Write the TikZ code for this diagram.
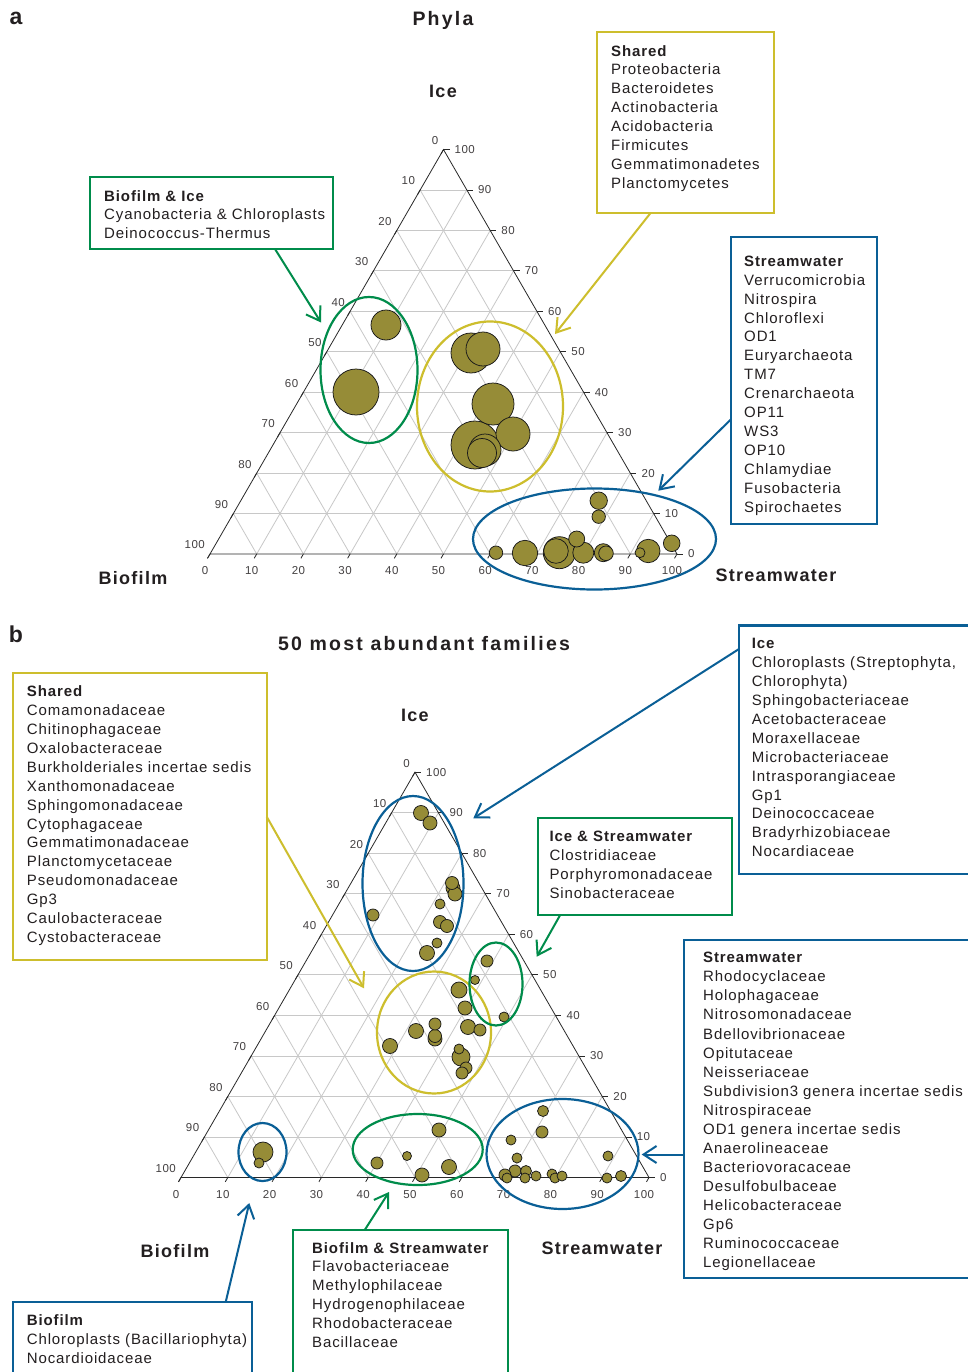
\documentclass[tikz,border=0pt]{standalone}
\usepackage{fontspec}
\setmainfont{Liberation Sans}
\newfontfamily\boxfont[LetterSpace=6]{Liberation Sans}
\newfontfamily\ttlfont[LetterSpace=11.5]{Liberation Sans}
\newfontfamily\axfont[LetterSpace=7]{Liberation Sans}
\newfontfamily\numfont[LetterSpace=4]{Liberation Sans}
\usetikzlibrary{arrows.meta,calc}
\definecolor{cgreen}{RGB}{0,140,75}
\definecolor{cyellow}{RGB}{205,190,45}
\definecolor{cblue}{RGB}{10,95,150}
\definecolor{colive}{RGB}{150,140,55}
\definecolor{cgrid}{RGB}{200,200,200}
\definecolor{ctext}{RGB}{35,31,32}
\definecolor{cside}{RGB}{40,40,40}
\tikzset{
  gridl/.style={draw=cgrid, line width=0.8pt},
  side/.style={draw=cside, line width=0.8pt},
  num/.style={font=\numfont\fontsize{11.5}{13}\selectfont, text=ctext!85, inner sep=0pt},
  bub/.style={fill=colive, draw=black!90, line width=0.75pt},
  ell/.style={line width=2.2pt},
  lbox/.style={draw=#1, line width=2.2pt, anchor=north west, inner sep=0pt, outer sep=0pt},
  ltext/.style={anchor=north west, inner sep=0pt, align=left, text=ctext,
    font=\boxfont\fontsize{15}{18.9}\selectfont},
  arr/.style={draw=#1, line width=2pt, -{Straight Barb[length=13pt,width=17pt]}},
  axlab/.style={font=\axfont\bfseries\fontsize{18}{20}\selectfont, text=ctext},
  ttl/.style={font=\ttlfont\bfseries\fontsize{19.5}{22}\selectfont, text=ctext},
  panl/.style={font=\bfseries\fontsize{23}{25}\selectfont, text=ctext},
}
% ternary frame: #1 = x of bottom-left, #2 = y of bottom-left, #3 = side, #4 = name prefix
\newcommand{\ternaryframe}[4]{%
  \pgfmathsetmacro{\tgH}{#3*0.8660254}
  \foreach \k in {1,...,9}{%
    \pgfmathsetmacro{\tgf}{\k/10}
    \draw[gridl] ({#1+#3*\tgf/2},{#2-\tgH*\tgf}) -- ({#1+#3-#3*\tgf/2},{#2-\tgH*\tgf});
    \draw[gridl] ({#1+#3*\tgf},#2) -- ({#1+#3*(1+\tgf)/2},{#2-\tgH*(1-\tgf)});
    \draw[gridl] ({#1+#3*\tgf},#2) -- ({#1+#3*\tgf/2},{#2-\tgH*\tgf});
  }
  \draw[side] (#1,#2) -- ({#1+#3},#2) -- ({#1+#3/2},{#2-\tgH}) -- cycle;
  \foreach \k in {0,...,10}{%
    \pgfmathsetmacro{\tgf}{\k/10}
    \pgfmathtruncatemacro{\tgv}{10*\k}
    \coordinate (#4tl\k) at ({#1+#3*(1-\tgf)/2},{#2-\tgH*(1-\tgf)});
    \draw[side] (#4tl\k) -- ++(-2.5,4.3);
    \node[num, anchor=east] (#4nl\k) at ($(#4tl\k)+(-5,-9)$) {\tgv};
    \coordinate (#4tr\k) at ({#1+#3*(1-\tgf/2)},{#2-\tgH*\tgf});
    \draw[side] (#4tr\k) -- ++(6,0);
    \node[num, anchor=west] (#4nr\k) at ($(#4tr\k)+(11,0)$) {\tgv};
    \coordinate (#4tb\k) at ({#1+#3*\tgf},#2);
    \draw[side] (#4tb\k) -- ++(-2.5,4.3);
    \node[num] (#4nb\k) at ($(#4tb\k)+(-5,17)$) {\tgv};
  }
}
\begin{document}
\begin{tikzpicture}[x=1pt,y=-1pt]
\useasboundingbox (0,0) rectangle (968,1372);
\fill[white] (0,0) rectangle (968,1372);

%% ================= Panel a =================
\node[panl] (pa) at (16,18) {a};
\node[ttl] (ttlA) at (443,20) {Phyla};
\node[axlab] (iceA) at (443,91) {Ice};
\node[axlab] (bioA) at (133,578) {Biofilm};
\node[axlab] (strA) at (776,575) {Streamwater};

\ternaryframe{210}{554}{467}{a}

% bubbles a
\foreach \x/\y/\r in {475/445/24, 356/392/23, 493/404/21, 471/353/20, 513/434/17, 483/349/17,
  485/450/16, 559.3/552.7/16, 386/325/15, 482/453/14.5, 525/553/12.7, 556/551/12.3,
  648.3/551/11.7, 583.3/552.7/10.5, 603.3/552.7/9, 598.7/500.7/8.7, 671.7/543.3/8.3,
  576.7/539/8, 606/553.3/7.3, 496/552.7/6.7, 598.7/516.7/6.7, 640/552.7/5}
  {\path[bub] (\x,\y) circle[radius=\r];}

% ellipses a
\draw[ell, cgreen] (369,370) ellipse[x radius=48.5, y radius=73];
\draw[ell, cyellow] (490,406.5) ellipse[x radius=73, y radius=85];
\draw[ell, cblue] (594.5,539) ellipse[x radius=121.5, y radius=50.5];

% boxes a
\node[lbox=cgreen, minimum width=243, minimum height=72] (biA) at (90,177) {};
\node[ltext] (biAt) at ($(biA.north west)+(14,13)$) {\textbf{Biofilm \& Ice}\\Cyanobacteria \& Chloroplasts\\Deinococcus-Thermus};

\node[lbox=cyellow, minimum width=177, minimum height=180.5] (shA) at (597.3,32.3) {};
\node[ltext] (shAt) at ($(shA.north west)+(13.7,12.7)$) {\textbf{Shared}\\Proteobacteria\\Bacteroidetes\\Actinobacteria\\Acidobacteria\\Firmicutes\\Gemmatimonadetes\\Planctomycetes};

\node[lbox=cblue, minimum width=146, minimum height=287] (stA) at (731,237.3) {};
\node[ltext] (stAt) at ($(stA.north west)+(13,18.4)$) {\textbf{Streamwater}\\Verrucomicrobia\\Nitrospira\\Chloroflexi\\OD1\\Euryarchaeota\\TM7\\Crenarchaeota\\OP11\\WS3\\OP10\\Chlamydiae\\Fusobacteria\\Spirochaetes};

% arrows a
\coordinate (tipBI) at (321,322.5);
\coordinate (tipShA) at (555,334);
\coordinate (tipStA) at (658.3,490.7);
\draw[arr=cgreen] ($(biA.south west)+(185,0)$) -- (tipBI);
\draw[arr=cyellow] ($(shA.south west)+(53.4,0)$) -- (tipShA);
\draw[arr=cblue] ($(stA.north west)+(0,182)$) -- (tipStA);

%% ================= Panel b =================
\node[panl] (pb) at (16,634) {b};
\node[ttl] (ttlB) at (424,644) {50 most abundant families};
\node[axlab] (iceB) at (415,715) {Ice};
\node[axlab] (bioB) at (175,1251) {Biofilm};
\node[axlab] (strB) at (602,1248) {Streamwater};

\ternaryframe{181}{1177.5}{468}{b}

% bubbles b
\foreach \x/\y/\r in {
  263/1152/10, 461/1057/9, 459/990/8, 421/813/7.5, 427/953/7.5, 416/1031/7.5, 390/1046/7.5,
  468/1027/7.5, 449/1167/7.5, 430/823/7, 453/888/7, 455/894/7, 465/1008/7, 435/1039/7,
  439/1130/7, 422/1175/7, 452/883/6.5, 440/922/6.5, 447/926/6.5, 435/1036/6.5,
  373/915/6, 487/961/6, 480/1030/6, 435/1024/6, 466/1068/6, 462/1073/6, 377/1163/6,
  542/1132/6, 515/1171/6, 505/1175/6, 543/1111/5.5, 526/1171/5.5, 621/1176/5.5,
  440/904/5, 437/943/5, 504/1017/5, 459/1049/5, 259/1163/5, 511/1140/5, 517/1158/5,
  507/1178/5, 525/1178/5, 536/1176/5, 552/1174/5, 555/1178/5, 562/1176/5, 608/1156/5,
  607/1178/5, 475/980/4.5, 407/1156/4.5}
  {\path[bub] (\x,\y) circle[radius=\r];}

% ellipses b
\draw[ell, cblue] (413,883.5) ellipse[x radius=50.5, y radius=87.5];
\draw[ell, cyellow] (434,1032.5) ellipse[x radius=57, y radius=61];
\draw[ell, cgreen] (496,984) ellipse[x radius=26.5, y radius=41.5];
\draw[ell, cblue] (262.5,1152) ellipse[x radius=24, y radius=29];
\draw[ell, cgreen] (417.7,1149.5) ellipse[x radius=65, y radius=35.5];
\draw[ell, cblue] (562.5,1154) ellipse[x radius=76, y radius=55];

% boxes b
\node[lbox=cyellow, minimum width=254, minimum height=286.7] (shB) at (12.7,673.3) {};
\node[ltext] (shBt) at ($(shB.north west)+(14,12.4)$) {\textbf{Shared}\\Comamonadaceae\\Chitinophagaceae\\Oxalobacteraceae\\Burkholderiales incertae sedis\\Xanthomonadaceae\\Sphingomonadaceae\\Cytophagaceae\\Gemmatimonadaceae\\Planctomycetaceae\\Pseudomonadaceae\\Gp3\\Caulobacteraceae\\Cystobacteraceae};

\node[lbox=cblue, minimum width=245, minimum height=248.5] (icB) at (739,625.5) {};
\node[ltext] (icBt) at ($(icB.north west)+(12.7,12.8)$) {\textbf{Ice}\\Chloroplasts (Streptophyta,\\Chlorophyta)\\Sphingobacteriaceae\\Acetobacteraceae\\Moraxellaceae\\Microbacteriaceae\\Intrasporangiaceae\\Gp1\\Deinococcaceae\\Bradyrhizobiaceae\\Nocardiaceae};

\node[lbox=cgreen, minimum width=194, minimum height=97] (isB) at (537.7,818.3) {};
\node[ltext] (isBt) at ($(isB.north west)+(11.6,13)$) {\textbf{Ice \& Streamwater}\\Clostridiaceae\\Porphyromonadaceae\\Sinobacteraceae};

\node[lbox=cblue, minimum width=300, minimum height=338] (stB) at (684,940) {};
\node[ltext, font=\boxfont\fontsize{15}{19.08}\selectfont] (stBt) at ($(stB.north west)+(19,12)$) {\textbf{Streamwater}\\Rhodocyclaceae\\Holophagaceae\\Nitrosomonadaceae\\Bdellovibrionaceae\\Opitutaceae\\Neisseriaceae\\Subdivision3 genera incertae sedis\\Nitrospiraceae\\OD1 genera incertae sedis\\Anaerolineaceae\\Bacteriovoracaceae\\Desulfobulbaceae\\Helicobacteraceae\\Gp6\\Ruminococcaceae\\Legionellaceae};

\node[lbox=cgreen, minimum width=215, minimum height=160] (bsB) at (292.7,1230) {};
\node[ltext] (bsBt) at ($(bsB.north west)+(19.3,12)$) {\textbf{Biofilm \& Streamwater}\\Flavobacteriaceae\\Methylophilaceae\\Hydrogenophilaceae\\Rhodobacteraceae\\Bacillaceae};

\node[lbox=cblue, minimum width=239, minimum height=100] (bfB) at (13.3,1302) {};
\node[ltext] (bfBt) at ($(bfB.north west)+(13.3,12.7)$) {\textbf{Biofilm}\\Chloroplasts (Bacillariophyta)\\Nocardioidaceae};

% arrows b
\coordinate (tipShB) at (364,988.3);
\coordinate (tipIcB) at (473.3,818.3);
\coordinate (tipIsB) at (536.7,956.7);
\coordinate (tipStB) at (641.7,1154.5);
\coordinate (tipBsB) at (389,1192);
\coordinate (tipBfB) at (249.3,1203);
\draw[arr=cyellow] ($(shB.north east)+(0,143.4)$) -- (tipShB);
\draw[arr=cblue] ($(icB.north west)+(0,23.5)$) -- (tipIcB);
\draw[arr=cgreen] ($(isB.south west)+(22.3,0)$) -- (tipIsB);
\draw[arr=cblue] ($(stB.north west)+(0,214.5)$) -- (tipStB);
\draw[arr=cgreen] ($(bsB.north west)+(72,0)$) -- (tipBsB);
\draw[arr=cblue] ($(bfB.north west)+(212.4,0)$) -- (tipBfB);
\end{tikzpicture}
\end{document}
